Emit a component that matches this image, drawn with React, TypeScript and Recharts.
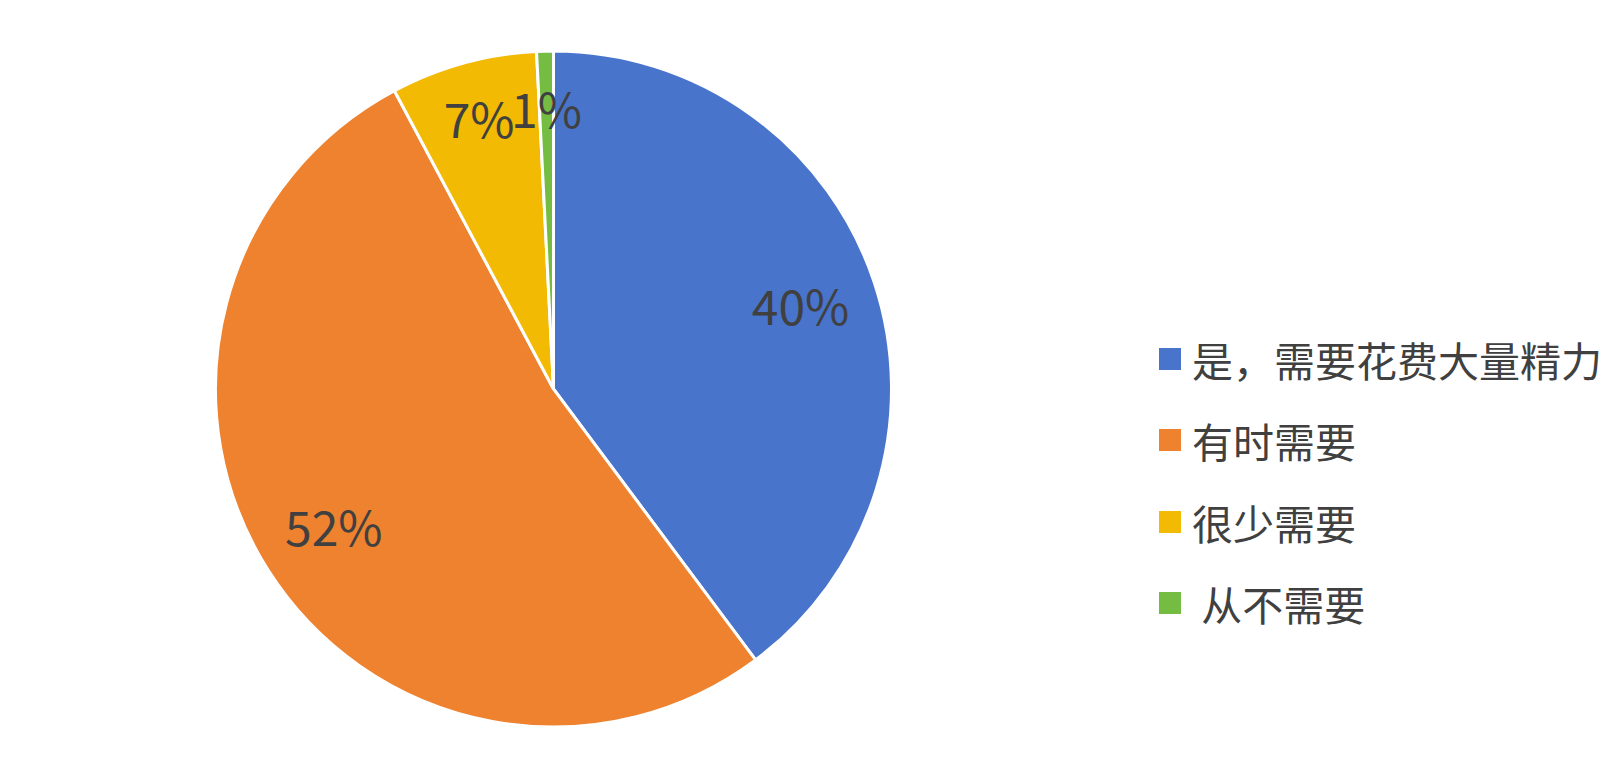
import { PieChart, Pie, Cell, Legend } from 'recharts'

const categories = ['是，需要花费大量精力', '有时需要', '很少需要', ' 从不需要']
const shares = [39.8, 52.4, 7.0, 0.8]
const COLORS = ['#4874cb', '#ee822f', '#f2ba02', '#75bd42']

const data = categories.map((name, i) => ({ name, value: shares[i] }))

const RADIAN = Math.PI / 180
const FONT = '"Noto Sans CJK SC", "Noto Sans", sans-serif'

// eslint-disable-next-line @typescript-eslint/no-explicit-any
function renderLabel({ cx, cy, midAngle, outerRadius, percent }: any) {
  // small slices sit a bit further out, like Excel's best fit
  const r = outerRadius * (percent < 0.1 ? 0.825 : 0.77)
  const x = cx + r * Math.cos(-midAngle * RADIAN)
  const y = cy + r * Math.sin(-midAngle * RADIAN) - 3
  return (
    <text x={x} y={y} textAnchor="middle" dominantBaseline="central" fill="#404040" fontSize={48} fontFamily={FONT}>
      {`${Math.round(percent * 100)}%`}
    </text>
  )
}

function LegendList() {
  return (
    <div style={{ fontFamily: FONT }}>
      {categories.map((name, i) => (
        <div key={name} style={{ height: 81.5, display: 'flex', alignItems: 'center' }}>
          <span style={{ width: 22, height: 22, background: COLORS[i], display: 'inline-block', marginRight: 11 }} />
          <span style={{ fontSize: 41, color: '#404040', whiteSpace: 'pre', lineHeight: '48px' }}>{name}</span>
        </div>
      ))}
    </div>
  )
}

export default function App() {
  return (
    <div style={{ position: 'absolute', left: 0, top: 0, width: 1624, height: 778, background: '#fff' }}>
      <PieChart width={1624} height={778} margin={{ top: 0, right: 0, bottom: 0, left: 0 }}>
        <Pie
          data={data}
          dataKey="value"
          nameKey="name"
          cx={553.5}
          cy={389}
          outerRadius={338}
          startAngle={90}
          endAngle={-270}
          stroke="#ffffff"
          strokeWidth={3}
          label={renderLabel}
          labelLine={false}
          isAnimationActive={false}
        >
          {data.map((_, i) => (
            <Cell key={`cell-${i}`} fill={COLORS[i]} />
          ))}
        </Pie>
        <Legend
          content={<LegendList />}
          wrapperStyle={{ left: 1159, top: 317.75, width: 465, bottom: 'auto' }}
        />
      </PieChart>
    </div>
  )
}
